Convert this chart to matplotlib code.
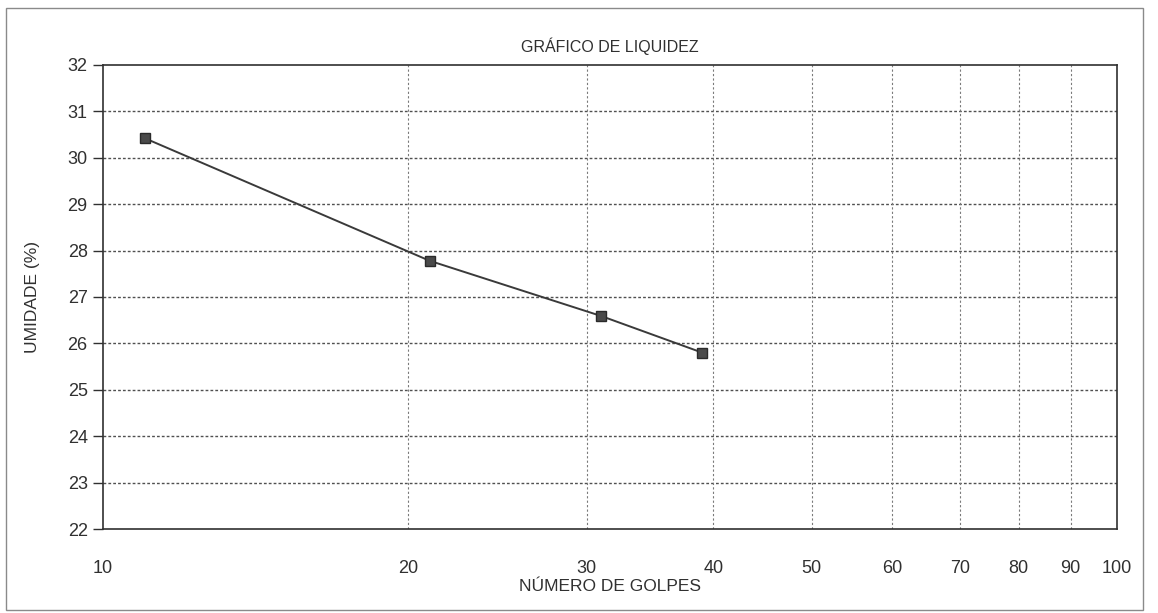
import matplotlib.pyplot as plt
from matplotlib.patches import Rectangle
from matplotlib.ticker import FixedLocator, NullLocator

# ── Data ──────────────────────────────────────────────────────────────────────
golpes = [11, 21, 31, 39]
umidade = [30.42, 27.78, 26.59, 25.80]

x_ticks = [10, 20, 30, 40, 50, 60, 70, 80, 90, 100]
y_ticks = list(range(22, 33))

plt.rcParams['font.family'] = ['Liberation Sans', 'DejaVu Sans']

fig = plt.figure(figsize=(11.58, 6.13), dpi=100)
ax = fig.add_axes([0.0889, 0.137, 0.8757, 0.757])

# outer frame of the scanned sheet
fig.patches.append(Rectangle((0.005, 0.005), 0.982, 0.982, transform=fig.transFigure,
                             fill=False, ec='#8a8a8a', lw=1.0))

ax.plot(golpes, umidade, color='#3a3a3a', lw=1.4, marker='s', markersize=7,
        markerfacecolor='#4a4a4a', markeredgecolor='#2a2a2a', zorder=3)

ax.set_xscale('log')
ax.set_xlim(10, 100)
ax.set_ylim(22, 32)

ax.xaxis.set_major_locator(FixedLocator(x_ticks))
ax.xaxis.set_minor_locator(NullLocator())
ax.set_xticklabels([str(t) for t in x_ticks])
ax.set_yticks(y_ticks)

# grid: horizontal dotted darker, vertical lighter
for y in y_ticks[1:-1]:
    ax.axhline(y, color='#505050', lw=1.0, ls=(0, (2, 1.5)), zorder=1)
for x in x_ticks[1:-1]:
    ax.axvline(x, color='#7a7a7a', lw=0.8, ls=(0, (2, 2)), zorder=1)

for s in ax.spines.values():
    s.set_color('#303030')
    s.set_linewidth(1.2)
    s.set_linestyle((0, (3, 1)))

ax.tick_params(axis='x', length=0, pad=22, labelsize=13, colors='#303030')
ax.tick_params(axis='y', length=7, width=1, pad=4, labelsize=13, colors='#303030')

ax.set_title('GRÁFICO DE LIQUIDEZ', fontsize=11.5, color='#303030', pad=9)
ax.set_xlabel('NÚMERO DE GOLPES', fontsize=12.5, color='#303030', labelpad=2)
ax.set_ylabel('UMIDADE (%)', fontsize=12.5, color='#303030', labelpad=20)

fig.savefig('out.png', dpi=100, facecolor='white')
